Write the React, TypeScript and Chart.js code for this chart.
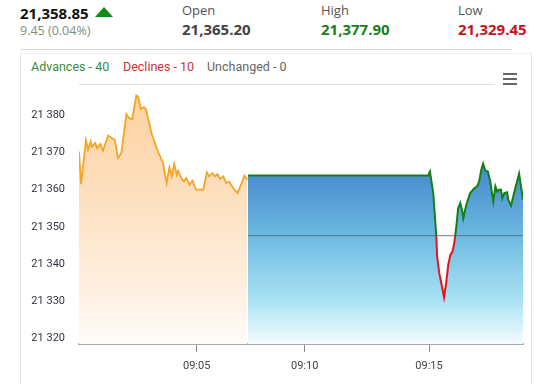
import React, { useEffect, useRef } from "react";
import { Chart, registerables } from "chart.js";

Chart.register(...registerables);

// ---- data ----
// x values are ordinal sample positions along the time axis
const preOpenX = [0, 0.7, 2.3, 3, 3.9, 4.3, 5.4, 6, 7.1, 8, 9.7, 11.9, 13, 14.1, 15.8, 16.7, 17.7, 19.1, 19.7, 20.6, 21.6, 22.3, 24.3, 26.3, 28, 29.2, 30.1, 30.9, 31.7, 32.6, 33, 34.2, 35, 35.7, 36.8, 37.8, 39, 40.3, 41.4, 42.6, 43.4, 44.4, 45.3, 46.1, 47, 48.1, 49, 50, 51.4, 52.8, 54.2, 55.1, 56.1];
const preOpenY = [21370.3, 21361.5, 21373.4, 21370.8, 21373, 21371.6, 21372.6, 21371.2, 21372.3, 21370.5, 21374.6, 21373.4, 21368.5, 21369.9, 21380.4, 21379.3, 21379, 21385.4, 21385.1, 21381.8, 21382.2, 21381.7, 21374.8, 21370.3, 21367.2, 21361.8, 21366, 21363.6, 21366.9, 21364, 21365.1, 21363, 21362.2, 21363.1, 21361.3, 21362.4, 21360, 21360, 21360, 21364.7, 21363.6, 21364.5, 21363.6, 21364.2, 21362.9, 21363.6, 21361.8, 21362.2, 21360.4, 21359.1, 21361.8, 21363.8, 21362.7];

const sessionX = [56.3, 116.3, 116.9, 118, 119, 119.3, 120, 120.7, 121.6, 122.3, 123, 123.7, 124.4, 125, 125.7, 126.3, 127, 127.7, 128, 129, 130.3, 131.7, 132.7, 133.3, 134, 134.6, 135.3, 136.2, 137, 138, 138.7, 139.3, 139.9, 140.6, 141, 141.7, 142.6, 143, 143.9, 145.2, 146.6, 147.9];
const sessionY = [21363.8, 21363.8, 21364.9, 21359.1, 21347.8, 21342, 21337.5, 21334.8, 21331, 21334.8, 21339.8, 21342.4, 21343.3, 21345.6, 21350.1, 21355, 21356.4, 21354.1, 21352.3, 21355.9, 21359.1, 21360.4, 21361, 21362.2, 21365.4, 21367, 21365.2, 21364.9, 21362.2, 21356.8, 21360.9, 21359.5, 21360, 21360, 21357.7, 21359.1, 21359.3, 21357.3, 21355.7, 21360, 21364.3, 21357.3];

const refValue = 21347.6;
const yMin = 21318.4;
const yMax = 21388.5;
const yTickValues = [21320, 21330, 21340, 21350, 21360, 21370, 21380];
const xMax = 147.9;
const xTickValues = [39.2, 75.2, 116.6];
const xTickLabels = ["09:05", "09:10", "09:15"];

const headerLast = "21,358.85";
const headerChange = "9.45 (0.04%)";
const headerStats = [
  { label: "Open", value: "21,365.20", color: "#444444", left: 182 },
  { label: "High", value: "21,377.90", color: "#1b7d1b", left: 321 },
  { label: "Low", value: "21,329.45", color: "#c8101e", left: 458 },
];
const breadth = [
  { text: "Advances - 40", color: "#3b8a3b", left: 31 },
  { text: "Declines - 10", color: "#cc3333", left: 123 },
  { text: "Unchanged - 0", color: "#666666", left: 207 },
];

const fmtY = (v: number) => String(v).replace(/\B(?=(\d{3})+(?!\d))/g, " ");

export default function App() {
  const ref = useRef<HTMLCanvasElement | null>(null);

  useEffect(() => {
    document.body.style.margin = "0";
    const canvas = ref.current!;
    const orangeFill = (ctx: any) => {
      const { chart } = ctx;
      const a = chart.chartArea;
      if (!a) return "#fde0c0";
      const g = chart.ctx.createLinearGradient(0, a.top, 0, a.bottom);
      g.addColorStop(0, "#fcd2a0");
      g.addColorStop(0.35, "#fddcb8");
      g.addColorStop(0.8, "#fff0e2");
      g.addColorStop(1, "#fffcf9");
      return g;
    };
    const blueFill = (ctx: any) => {
      const { chart } = ctx;
      const a = chart.chartArea;
      if (!a) return "#6cb8e2";
      const g = chart.ctx.createLinearGradient(0, a.top, 0, a.bottom);
      g.addColorStop(0, "#3a76c2");
      g.addColorStop(0.354, "#4a8fcf");
      g.addColorStop(0.58, "#6cb8e2");
      g.addColorStop(0.83, "#a9e2f3");
      g.addColorStop(1, "#f4fcff");
      return g;
    };
    const sessionLine = (ctx: any) => {
      const { chart } = ctx;
      const a = chart.chartArea;
      if (!a) return "#128012";
      const py = chart.scales.y.getPixelForValue(refValue);
      const f = Math.min(1, Math.max(0, (py - a.top) / (a.bottom - a.top)));
      const g = chart.ctx.createLinearGradient(0, a.top, 0, a.bottom);
      g.addColorStop(0, "#128012");
      g.addColorStop(f, "#128012");
      g.addColorStop(f, "#e8121e");
      g.addColorStop(1, "#e8121e");
      return g;
    };

    const chart = new Chart(canvas, {
      type: "line",
      data: {
        datasets: [
          {
            label: "session",
            data: sessionX.map((x, i) => ({ x, y: sessionY[i] })),
            borderColor: sessionLine,
            backgroundColor: blueFill,
            borderWidth: 2,
            fill: "start",
            pointRadius: 0,
            tension: 0,
          },
          {
            label: "ref",
            data: [
              { x: sessionX[0], y: refValue },
              { x: xMax, y: refValue },
            ],
            borderColor: "rgba(95,105,110,0.9)",
            borderWidth: 1,
            fill: false,
            pointRadius: 0,
          },
          {
            label: "preopen",
            data: preOpenX.map((x, i) => ({ x, y: preOpenY[i] })),
            borderColor: "#f4a522",
            backgroundColor: orangeFill,
            borderWidth: 1.8,
            fill: "start",
            pointRadius: 0,
            tension: 0,
          },
        ],
      },
      options: {
        animation: false,
        responsive: false,
        maintainAspectRatio: false,
        layout: { padding: { left: 0, top: 84, right: 21, bottom: 0 } },
        plugins: {
          legend: { display: false },
          tooltip: { enabled: false },
          filler: { drawTime: "beforeDatasetsDraw" } as any,
        },
        scales: {
          x: {
            type: "linear",
            min: 0,
            max: xMax,
            afterFit: (s: any) => {
              s.height = 40;
            },
            afterBuildTicks: (s: any) => {
              s.ticks = xTickValues.map((v) => ({ value: v }));
            },
            grid: {
              display: true,
              drawOnChartArea: false,
              drawTicks: true,
              tickLength: 8,
              color: "#8a8a8a",
            },
            border: { display: true, color: "#a8a8a8", width: 2 },
            ticks: {
              autoSkip: false,
              maxRotation: 0,
              padding: 8,
              color: "#444444",
              font: { family: "Roboto", size: 11 },
              callback: (v: any) => {
                const i = xTickValues.indexOf(Number(v));
                return i >= 0 ? xTickLabels[i] : "";
              },
            },
          },
          y: {
            type: "linear",
            min: yMin,
            max: yMax,
            afterFit: (s: any) => {
              s.width = 79;
            },
            afterBuildTicks: (s: any) => {
              s.ticks = yTickValues.map((v) => ({ value: v }));
            },
            grid: { display: false, drawTicks: false },
            border: { display: false },
            ticks: {
              padding: 14,
              color: "#333344",
              font: { family: "Roboto", size: 11 },
              callback: (v: any) => fmtY(Number(v)),
            },
          },
        },
      },
    });
    return () => chart.destroy();
  }, []);

  const font = "'Open Sans', sans-serif";
  return (
    <div style={{ position: "fixed", left: 0, top: 0, width: 544, height: 384, background: "#fff", overflow: "hidden" }}>
      <div style={{ position: "absolute", left: 20, top: 4, font: `700 15px ${font}`, lineHeight: "18px", color: "#111" }}>
        {headerLast}
      </div>
      <div
        style={{
          position: "absolute",
          left: 95,
          top: 7,
          width: 0,
          height: 0,
          borderLeft: "9px solid transparent",
          borderRight: "9px solid transparent",
          borderBottom: "10px solid #178a17",
        }}
      />
      <div style={{ position: "absolute", left: 20, top: 23, font: `400 12.5px ${font}`, lineHeight: "16px", color: "#7c917c" }}>
        {headerChange}
      </div>
      {headerStats.map((s) => (
        <React.Fragment key={s.label}>
          <div style={{ position: "absolute", left: s.left, top: 1, font: `400 13px ${font}`, lineHeight: "18px", color: "#555" }}>
            {s.label}
          </div>
          <div style={{ position: "absolute", left: s.left, top: 20, font: `700 15px ${font}`, lineHeight: "18px", color: s.color }}>
            {s.value}
          </div>
        </React.Fragment>
      ))}
      <div style={{ position: "absolute", left: 20, top: 49, width: 492, height: 1, background: "#dddddd" }} />
      <div
        style={{
          position: "absolute",
          left: 20,
          top: 53,
          width: 510,
          height: 340,
          borderLeft: "1px solid #e6e6e6",
          borderRight: "1px solid #e6e6e6",
          borderTop: "1px solid #f0f0f0",
        }}
      />
      {breadth.map((b) => (
        <div
          key={b.text}
          style={{ position: "absolute", left: b.left, top: 59, font: "400 12.5px Roboto, sans-serif", lineHeight: "16px", color: b.color, whiteSpace: "nowrap" }}
        >
          {b.text}
        </div>
      ))}
      <div style={{ position: "absolute", left: 79, top: 84, width: 416, height: 1, background: "#e2e2e2" }} />
      {[73, 78, 83].map((t) => (
        <div key={t} style={{ position: "absolute", left: 503, top: t, width: 14, height: 2, background: "#666" }} />
      ))}
      <canvas ref={ref} width={544} height={384} style={{ position: "absolute", left: 0, top: 0, width: 544, height: 384 }} />
    </div>
  );
}
